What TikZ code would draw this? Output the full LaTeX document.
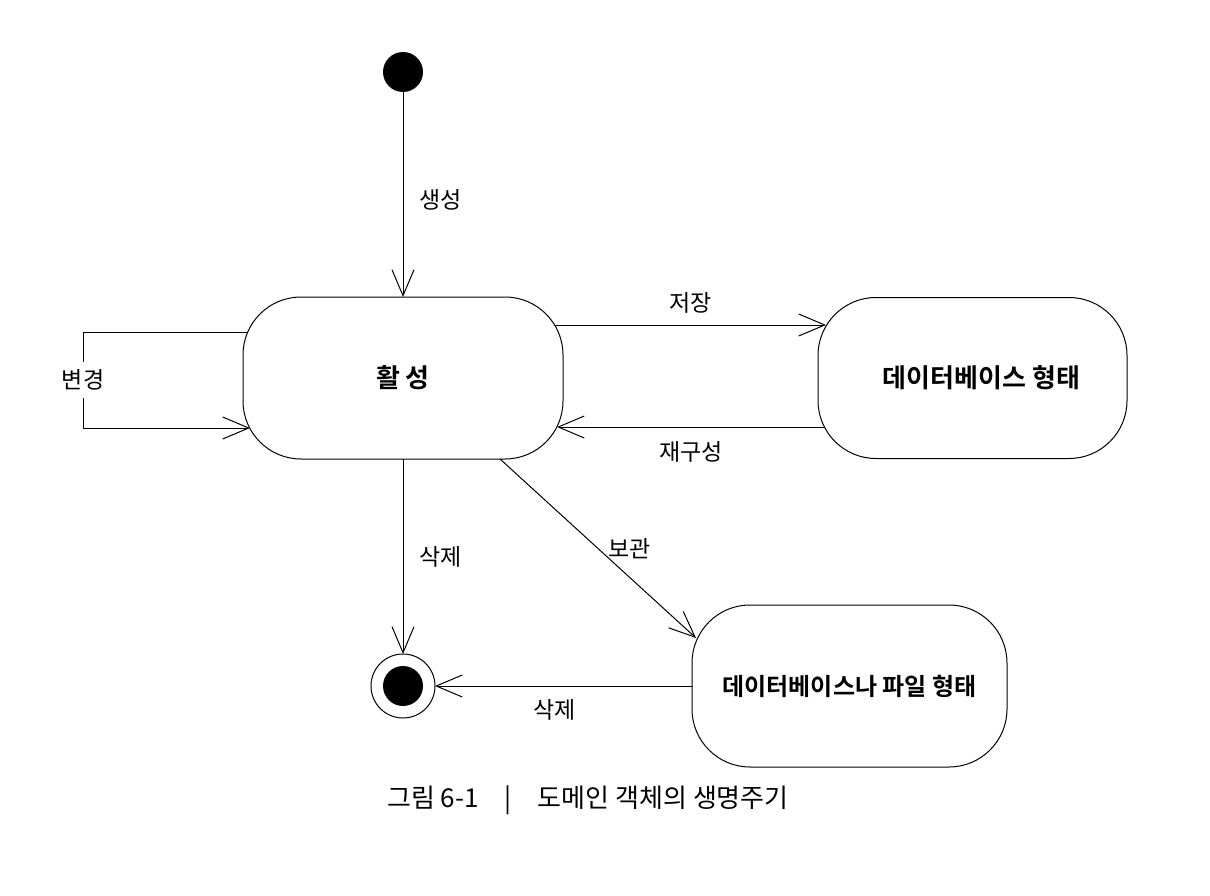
\documentclass[tikz,border=0pt]{standalone}
\usepackage{fontspec}
\setmainfont{Noto Sans CJK KR}[BoldFont={Noto Sans CJK KR Bold}]
\usetikzlibrary{positioning,arrows.meta}

\begin{document}
\begin{tikzpicture}[x=1pt, y=1pt,
  every node/.style={align=center},
  state/.style={draw, line width=1pt, rounded corners=58pt, minimum width=320pt, minimum height=162pt, inner sep=0pt, outer sep=0pt, font=\fontsize{26}{30}\selectfont\bfseries},
  dot/.style={circle, fill=black, minimum size=40pt, inner sep=0pt, outer sep=0pt},
  ring/.style={circle, draw, line width=1pt, minimum size=64pt, inner sep=0pt, outer sep=0pt},
  lbl/.style={font=\fontsize{23}{27}\selectfont, inner sep=2pt},
  arr/.style={-{Straight Barb[length=26pt, width=22pt, line width=1pt]}, line width=1pt}]
\useasboundingbox (0,0) rectangle (1210,-896);

% ---------------- states ----------------
\node[state] (active) at (403,-378) {활 성};
\node[state, right=255pt of active, minimum width=309pt, minimum height=161pt] (db) {\hspace*{18pt}데이터베이스 형태};
\node[dot, above=205pt of active] (init) {};
\node[ring, below=195pt of active] (final) {};
\node[dot] (finaldot) at (final) {};
\node[state, right=257pt of final, minimum width=315pt, font=\fontsize{24}{28}\selectfont\bfseries] (archive) {데이터베이스나 파일 형태};

% ---------------- caption ----------------
\node[font=\fontsize{26}{30}\selectfont] (caption) at (588,-800) {그림 6-1\quad |\quad 도메인 객체의 생명주기};

% ---------------- arrows ----------------
\draw[arr] (init) -- (active) node[lbl, midway, right=14pt, yshift=-5pt] {생성};
\draw[arr] ([xshift=-8pt, yshift=53pt]active.east) -- ([xshift=8pt, yshift=53pt]active.east -| db.west)
  node[lbl, midway, above=9pt] {저장};
\draw[arr] ([xshift=7pt, yshift=-49pt]active.east -| db.west) -- ([xshift=-6pt, yshift=-49pt]active.east)
  node[lbl, midway, below=12pt] {재구성};
\draw[arr] (active) -- (final) node[lbl, midway, right=14pt] {삭제};
\draw[arr] ([xshift=97pt]active.south) -- ([xshift=4pt, yshift=48pt]archive.west)
  node[lbl, midway, right=8pt] {보관};
\draw[arr] (archive.west) -- (final.east) node[lbl, midway, below=11pt, xshift=-9pt] {삭제};

% self loop on the active state
\draw[arr] ([xshift=5pt, yshift=46pt]active.west) -- ++(-165,0) |- ([xshift=7pt, yshift=-50pt]active.west)
  node[lbl, pos=0.25, fill=white, inner ysep=8pt] {변경};
\end{tikzpicture}
\end{document}
